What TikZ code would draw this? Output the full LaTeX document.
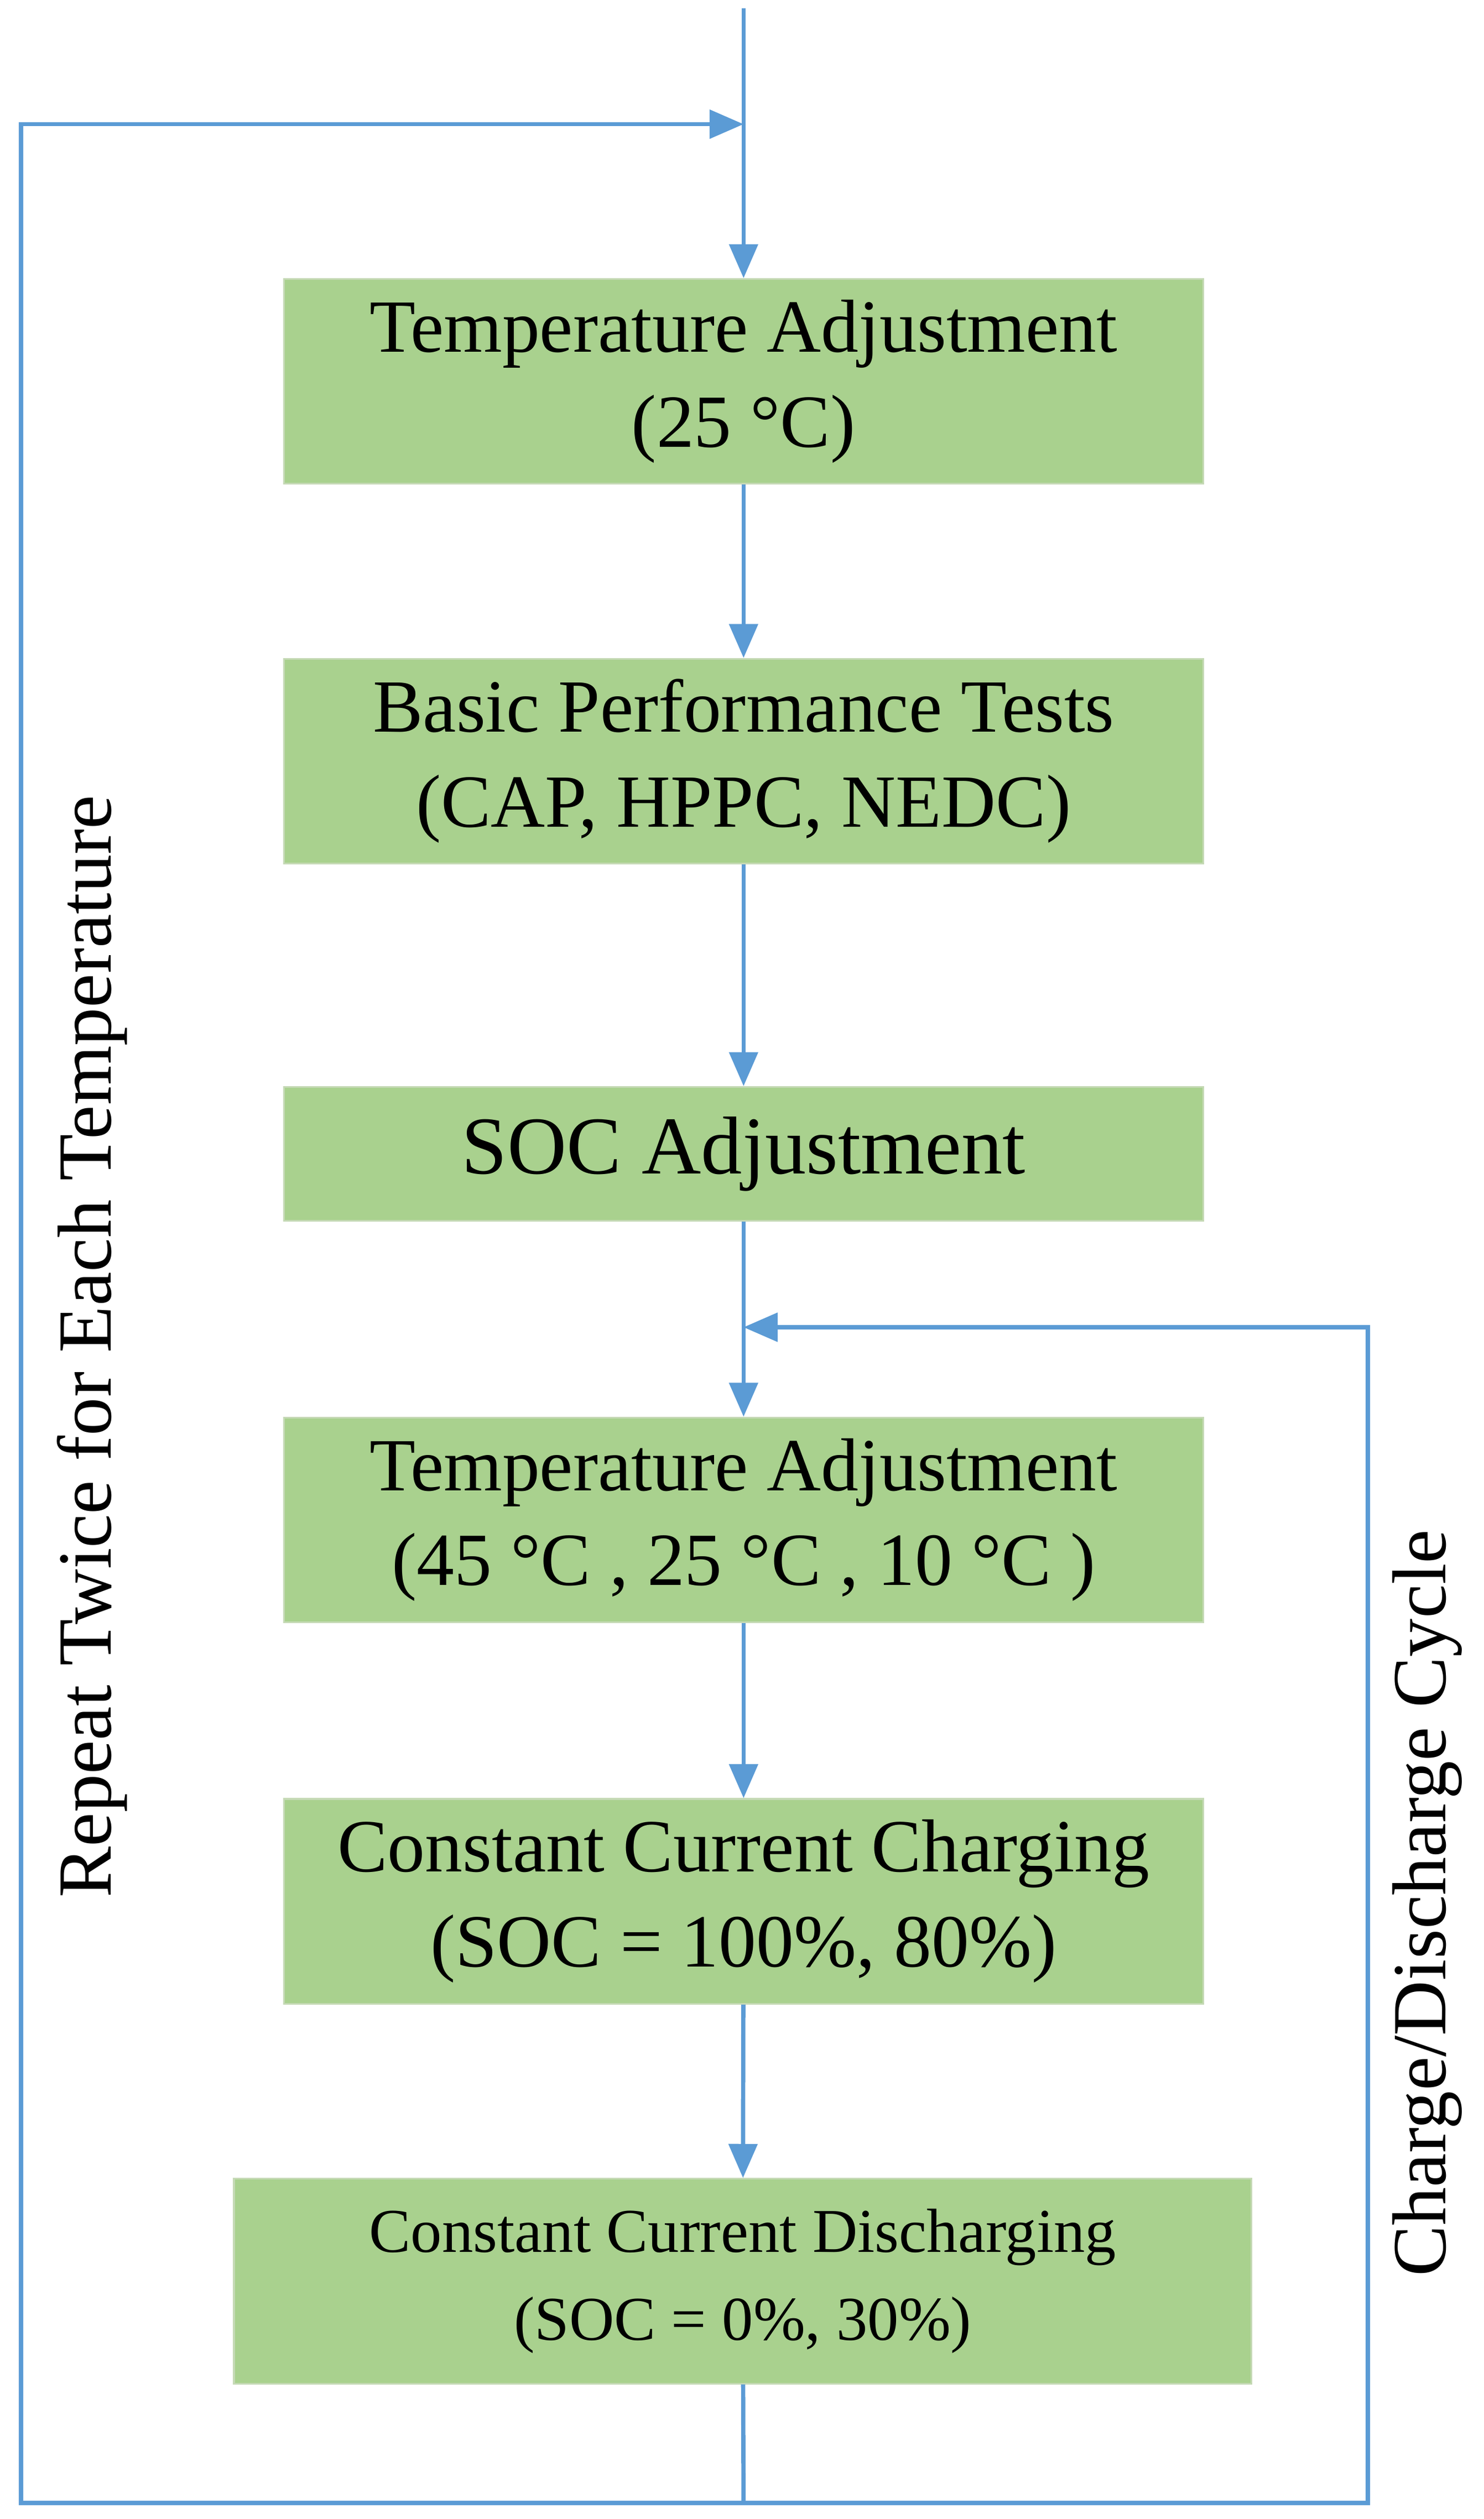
\documentclass[tikz,border=0pt]{standalone}
\usepackage{fontspec}
\setmainfont{Liberation Serif}
\usepackage{xcolor}
\usetikzlibrary{arrows.meta,positioning}
\definecolor{boxgreen}{HTML}{A9D18E}
\definecolor{boxedge}{HTML}{C5D9B5}
\definecolor{flowblue}{HTML}{5B9BD5}
\begin{document}
\begin{tikzpicture}[
    x=0.02cm, y=-0.02cm,
    process/.style={rectangle, minimum width=11.4cm, minimum height=2.54cm, inner sep=0pt, align=center, draw=boxedge, line width=0.6pt, fill=boxgreen, font=\fontsize{26.5}{33.5}\selectfont},
    line/.style={draw=flowblue, line width=1.5pt},
    arrow/.style={line, -{Triangle[length=12pt,width=10pt]}},
    side/.style={rotate=90, font=\fontsize{27}{30}\selectfont}
]
\useasboundingbox (0,0) rectangle (920,1562);

\node (tempa) [process] at (461,236.5) {Temperature Adjustment\\(25 \textdegree C)};
\node (basic) [process] at (461,472) {Basic Performance Tests\\(CAP, HPPC, NEDC)};
\node (soc) [process, minimum height=1.66cm, font=\fontsize{29}{34}\selectfont] at (461,715.5) {SOC Adjustment};
\node (tempb) [process] at (461,942.5) {Temperature Adjustment\\(45 \textdegree C , 25 \textdegree C , 10 \textdegree C )};
\node (charge) [process] at (461,1179) {Constant Current Charging\\(SOC = 100\%, 80\%)};
\node (discharge) [process, minimum width=12.62cm, font=\fontsize{22}{31}\selectfont] at (460.5,1414.5) {Constant Current Discharging\\(SOC = 0\%, 30\%)};

\coordinate (top) at (461,5);
\coordinate (joina) at (461,77);
\coordinate (joinb) at (461,823);
\coordinate (bot) at (461,1552);
\coordinate (botl) at (13,1552);
\coordinate (topl) at (13,77);
\coordinate (botr) at (848,1552);
\coordinate (topr) at (848,823);

\draw [arrow] (top) -- (tempa);
\draw [arrow] (tempa) -- (basic);
\draw [arrow] (basic) -- (soc);
\draw [arrow] (soc) -- (tempb);
\draw [arrow] (tempb) -- (charge);
\draw [arrow] (charge) -- (discharge);
\draw [line] (discharge) -- (bot);

% outer loop
\draw [arrow] (bot) -- (botl) -- (topl) -- (joina);
% inner loop
\draw [arrow] (bot) -- (botr) -- (topr) -- (joinb);

\node (repeat) [side] at (57,835) {Repeat Twice for Each Temperature};
\node (cycle) [side] at (885,1180) {Charge/Discharge Cycle};

\end{tikzpicture}
\end{document}
